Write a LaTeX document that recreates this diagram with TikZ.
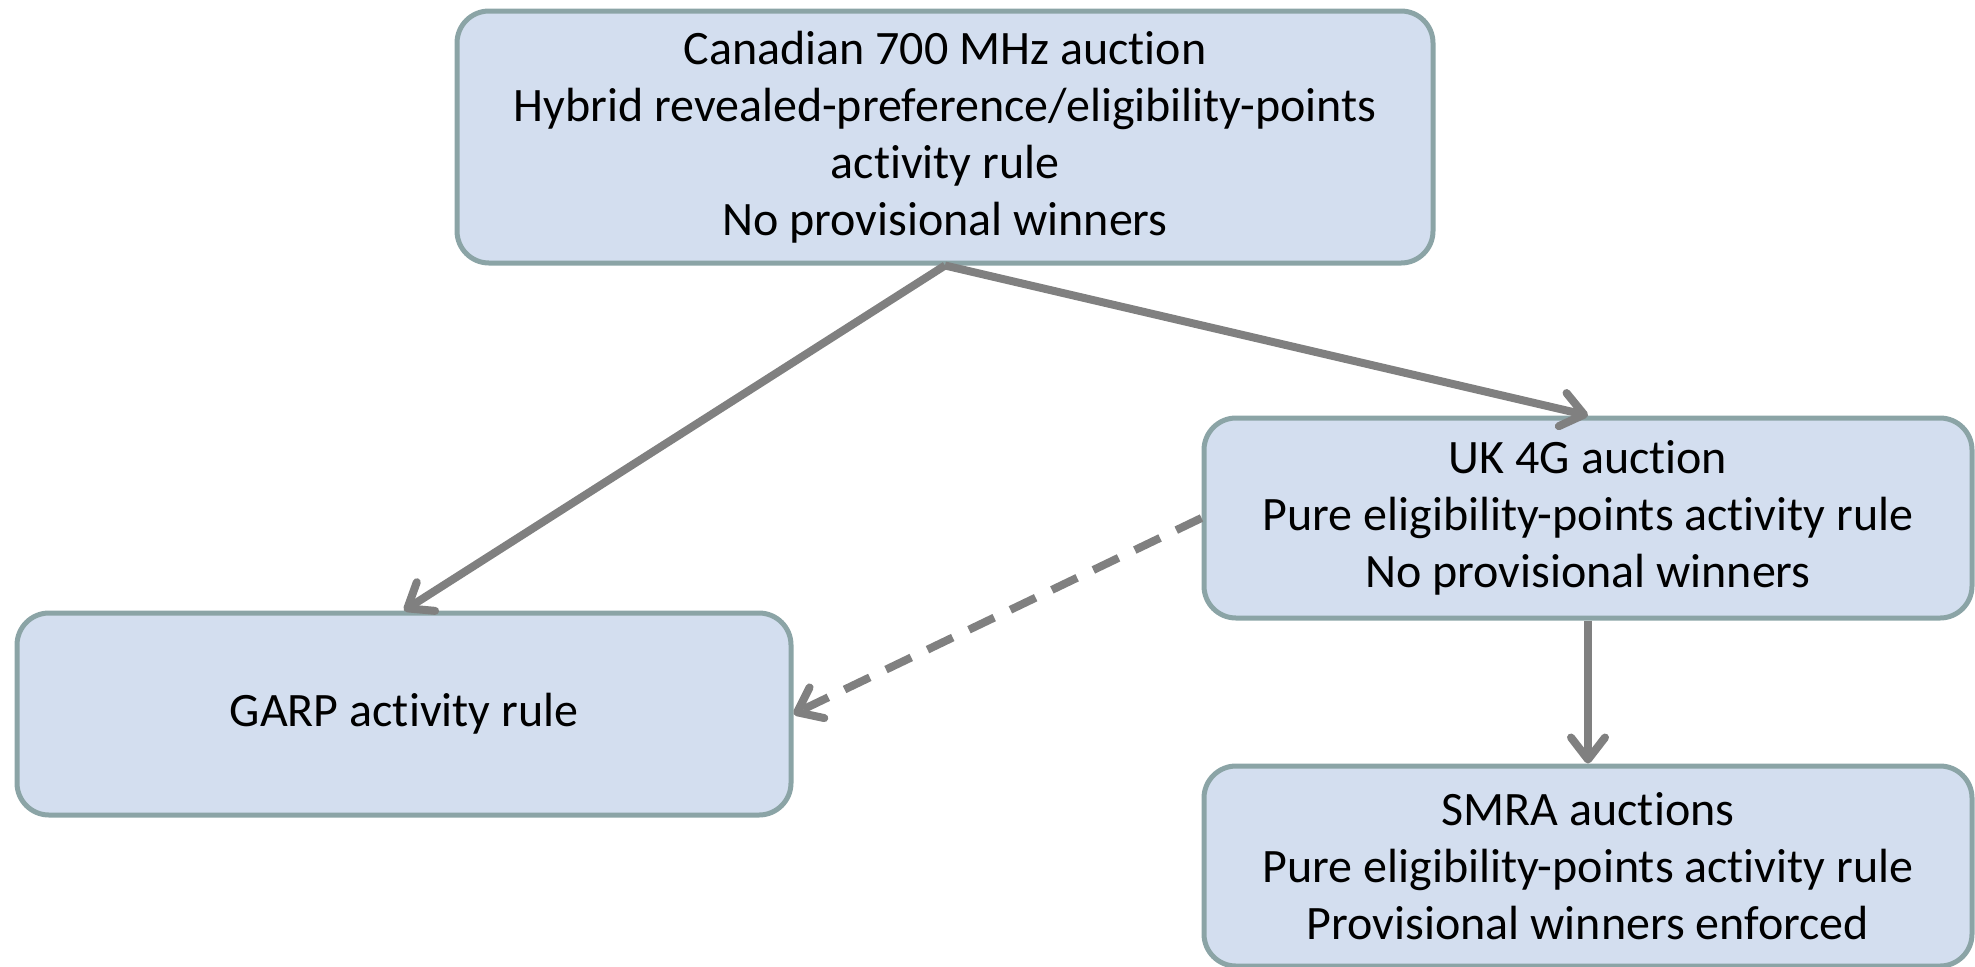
\documentclass[tikz,border=0pt]{standalone}
\usepackage{fontspec}
\setmainfont{Carlito}[Ligatures=NoCommon]
\usetikzlibrary{arrows.meta}

\definecolor{boxfill}{RGB}{211,222,239}
\definecolor{boxline}{RGB}{139,164,166}
\definecolor{arrowgray}{RGB}{128,128,128}

\tikzset{
  auctionbox/.style={draw=boxline, fill=boxfill, line width=2.5pt, rounded corners=16pt,
    align=center, inner sep=0pt, font=\fontsize{24}{28.5}\selectfont},
  flow/.style={draw=arrowgray, line width=4pt,
    -{Straight Barb[length=11pt,width=17pt,line cap=round,line join=round]}},
  weakflow/.style={flow, dash pattern=on 14pt off 9pt}
}

\begin{document}
\begin{tikzpicture}[x=0.5pt,y=-0.5pt]
        % Page frame (pixel grid of the reference)
        \useasboundingbox (0,0) rectangle (1975,966);

        % Auction formats
        \node[auctionbox, minimum width=488pt, minimum height=126pt] (canada) at (945,137)
          {Canadian 700 MHz auction\\Hybrid revealed-preference/eligibility-points\\activity rule\\No provisional winners};
        \node[auctionbox, minimum width=384pt, minimum height=100pt] (uk) at (1588,518)
          {UK 4G auction\\Pure eligibility-points activity rule\\No provisional winners};
        \node[auctionbox, minimum width=387pt, minimum height=101pt] (garp) at (404,714)
          {GARP activity rule};
        \node[auctionbox, minimum width=384pt, minimum height=100pt] (smra) at (1588,866)
          {SMRA auctions\\Pure eligibility-points activity rule\\Provisional winners enforced};

        % Links between the formats
        \draw[flow] (canada.south) -- (garp.north);
        \draw[flow] (canada.south) -- (uk.north);
        \draw[flow] (uk.south) -- (smra.north);
        \draw[weakflow] (uk.west) -- (garp.east);
\end{tikzpicture}
\end{document}
